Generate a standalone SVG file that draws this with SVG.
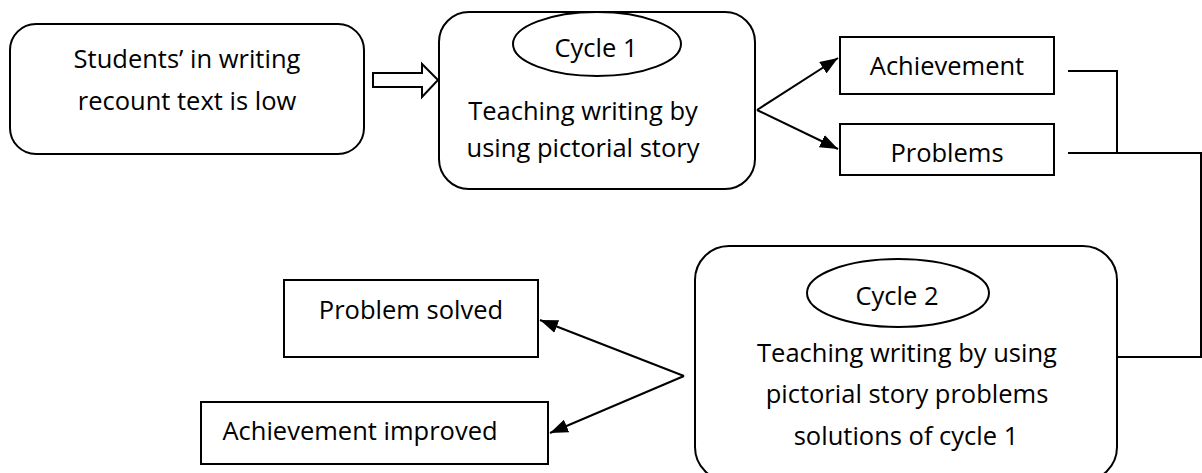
<svg xmlns="http://www.w3.org/2000/svg" width="1202" height="473" viewBox="0 0 1202 473">
<style>
.box{fill:#fff;stroke:#000;stroke-width:2}
.ln{fill:none;stroke:#000;stroke-width:2}
.t{font-family:"Open Sans","Liberation Sans",sans-serif;font-size:25.5px;fill:#000;text-anchor:middle}
</style>
<defs>
<marker id="ah2" viewBox="0 0 16 12" refX="16" refY="6" markerWidth="18" markerHeight="14" markerUnits="userSpaceOnUse" orient="auto">
<path d="M0,0 L16,6 L0,12 Z" fill="#000"/>
</marker>
</defs>
<rect width="1202" height="473" fill="#fff"/>
<g id="connectors">
<path class="ln" d="M373,73 H422 V64 L438,80 L422,97 V87 H373 Z" stroke-width="1.5"/>
<path class="ln" d="M757,110 L838,58" marker-end="url(#ah2)"/>
<path class="ln" d="M757,110 L838,149" marker-end="url(#ah2)"/>
<path class="ln" d="M1068,71 H1117 V153"/>
<path class="ln" d="M1068,153 H1201 V357 H1117"/>
<path class="ln" d="M684,376 L540,320" marker-end="url(#ah2)"/>
<path class="ln" d="M684,376 L550,433" marker-end="url(#ah2)"/>
</g>
<g id="n-students">
<rect class="box" x="10" y="24" width="354" height="130" rx="26"/>
<text class="t" x="187" y="68">Students’ in writing</text>
<text class="t" x="187" y="110">recount text is low</text>
</g>
<g id="n-cycle1">
<rect class="box" x="439" y="12" width="316" height="177" rx="30"/>
<ellipse class="box" cx="597" cy="44" rx="84" ry="32" stroke-width="1.5"/>
<text class="t" x="596" y="57">Cycle 1</text>
<text class="t" x="583" y="120">Teaching writing by</text>
<text class="t" x="583" y="157">using pictorial story</text>
</g>
<g id="n-achievement">
<rect class="box" x="840" y="37" width="214" height="57"/>
<text class="t" x="947" y="75">Achievement</text>
</g>
<g id="n-problems">
<rect class="box" x="840" y="124" width="214" height="51"/>
<text class="t" x="947" y="162">Problems</text>
</g>
<g id="n-cycle2">
<rect class="box" x="695" y="246" width="422" height="235" rx="34"/>
<ellipse class="box" cx="898" cy="293" rx="91" ry="34" stroke-width="1.5"/>
<text class="t" x="897" y="305">Cycle 2</text>
<text class="t" x="907" y="362">Teaching writing by using</text>
<text class="t" x="907" y="403">pictorial story problems</text>
<text class="t" x="906" y="445">solutions of cycle 1</text>
</g>
<g id="n-solved">
<rect class="box" x="284" y="280" width="254" height="77"/>
<text class="t" x="411" y="319">Problem solved</text>
</g>
<g id="n-improved">
<rect class="box" x="201" y="402" width="347" height="62"/>
<text class="t" x="360" y="440">Achievement improved</text>
</g>
</svg>
